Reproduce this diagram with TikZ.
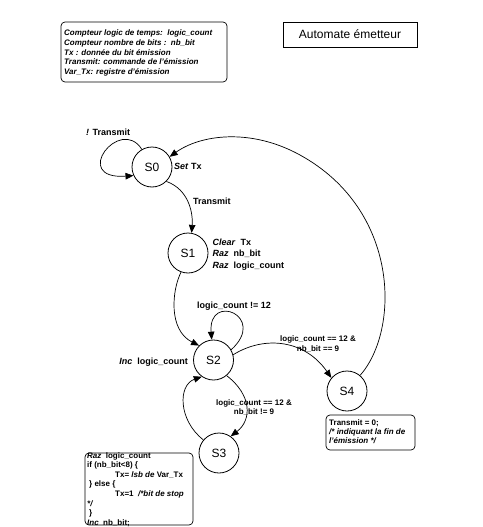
\documentclass[tikz,border=0pt]{standalone}
\usepackage{fontspec}
\setmainfont{Liberation Sans}
\usetikzlibrary{arrows.meta}
\begin{document}
\begin{tikzpicture}[x=1pt,y=-1pt,
  st/.style={circle,draw,line width=0.8pt,minimum size=40pt,inner sep=0pt,font=\fontsize{12}{14}\selectfont},
  arr/.style={line width=0.7pt,-{Triangle[length=8pt,width=6.5pt]}},
  lbl/.style={font=\fontsize{9}{11.7}\selectfont\bfseries,inner sep=0pt},
  lbls/.style={font=\fontsize{8}{9.6}\selectfont\bfseries,inner sep=0pt,align=center},
  note/.style={font=\fontsize{8}{9.6}\selectfont\bfseries,inner sep=0pt,align=left},
  box/.style={draw,line width=0.7pt,rounded corners=4pt}]
\useasboundingbox (0,0) rectangle (482,527);
% legend
\draw[box] (61,22) rectangle (227,82);
\node[note,font=\fontsize{8}{9.6}\selectfont\bfseries\itshape,anchor=north west] (legend) at (64,30)
 {Compteur logic de temps:\ \ logic\_count\\
  Compteur nombre de bits :\ \ nb\_bit\\
  Tx : donnée du bit émission\\
  Transmit: commande de l'émission\\
  Var\_Tx: registre d'émission};
\node[draw,line width=0.7pt,minimum width=134pt,minimum height=25pt,font=\fontsize{12}{14}\selectfont] (title) at (350,34.5) {Automate émetteur};
% states
\node[st] (s0) at (152,167) {S0};
\node[st] (s1) at (188,253) {S1};
\node[st] (s2) at (213.5,360) {S2};
\node[st] (s3) at (219,453) {S3};
\node[st] (s4) at (347,391) {S4};
% state actions
\node[lbl,anchor=west] (a0) at (174,166) {\textit{Set} Tx};
\node[lbl,anchor=north west,align=left] (a1) at (212.5,238.5)
 {\textit{Clear}\ \ Tx\\ \textit{Raz}\ \ nb\_bit\\ \textit{Raz}\ \ logic\_count};
\node[lbl,anchor=base east] (a2) at (188,364) {\textit{Inc}\ \ logic\_count};
% S4 note
\draw[box] (326,415) rectangle (415,450);
\node[note,font=\fontsize{8}{9}\selectfont\bfseries,anchor=north west] (n4) at (329,419)
 {Transmit = 0;\\ \textit{/* indiquant la fin de}\\ \textit{l'émission */}};
% S3 note
\draw[box] (85,453) rectangle (193,525);
\node[note,anchor=north west] (n3) at (87,452)
 {\textit{Raz}\ \ logic\_count\\
  if (nb\_bit<8) \{\\
  \hspace*{28pt}Tx= \textit{lsb de} Var\_Tx\\
  \hspace*{2pt}\} else \{\\
  \hspace*{28pt}Tx=1\ \ \textit{/*bit de stop}\\
  \textit{*/}\\
  \hspace*{2pt}\}\\
  \textit{Inc}\ \ nb\_bit;};
% transitions
\draw[arr] (s0.120) .. controls (120,115) and (70,180) .. (s0.205);
\node[lbl,anchor=west] (l00) at (86,132) {\textit{!} Transmit};
\draw[arr] (s0.-45) .. controls (190,190) and (193,215) .. (s1.80);
\node[lbl,anchor=west] (l01) at (193,201) {Transmit};
\draw[arr] (s1.250) .. controls (172,290) and (168,330) .. (s2.135);
\draw[arr] (s2.30) .. controls (268,316) and (208,292) .. (s2.95);
\node[lbl,anchor=base] (l22) at (234,308.2) {logic\_count != 12};
\draw[arr] (s2.15) .. controls (265,335) and (305,340) .. (s4.140);
\node[lbls,anchor=north] (l24) at (318,335.5) {logic\_count == 12 \&\\ nb\_bit == 9};
\draw[arr] (s4.50) .. controls (400,330) and (400,210) .. (300,155) .. controls (250,127.5) and (200,135) .. (s0.30);
\draw[arr] (s2.-50) .. controls (252,395) and (252,420) .. (s3.55);
\node[lbls,anchor=north] (l23) at (254,399) {logic\_count == 12 \&\\ nb\_bit != 9};
\draw[arr] (s3.140) .. controls (178,420) and (178,385) .. (s2.235);
\end{tikzpicture}
\end{document}
